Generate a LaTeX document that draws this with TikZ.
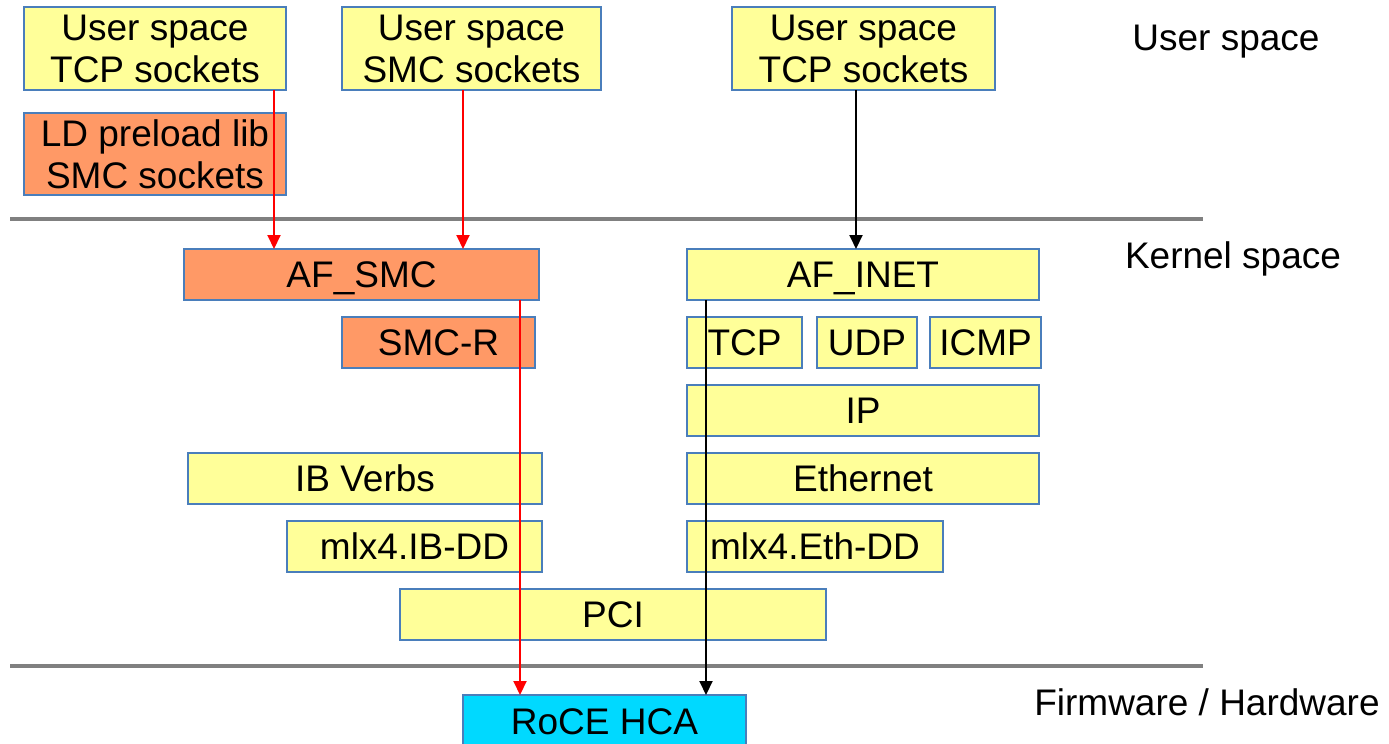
\documentclass[tikz,border=0pt]{standalone}
\usepackage{fontspec}
\setmainfont{Liberation Sans}
\usepackage{tikz}
\usetikzlibrary{arrows.meta,positioning,calc}
\definecolor{boxyellow}{HTML}{FFFF99}
\definecolor{boxorange}{HTML}{FF9966}
\definecolor{boxcyan}{HTML}{00D9FF}
\definecolor{boxblue}{HTML}{4A7EBB}
\definecolor{sepgray}{HTML}{808080}
\definecolor{smcred}{HTML}{FF0000}

\begin{document}
\begin{tikzpicture}[x=1pt, y=-1pt,
  every node/.style={font=\fontsize{37}{42}\selectfont, inner sep=0pt, outer sep=0pt},
  layer/.style={draw=boxblue, line width=2pt, align=center},
  oneline/.style={layer, text height=26.5pt, text depth=0pt, minimum height=51pt},
  smcarrow/.style={draw=smcred, line width=2pt, -{Triangle[length=14pt, width=13pt]}},
  inetarrow/.style={draw=black, line width=2pt, -{Triangle[length=14pt, width=13pt]}},
  sepline/.style={draw=sepgray, line width=4pt}]
  \useasboundingbox (0,0) rectangle (1389,744);

  % user space
  \node[layer, fill=boxyellow, minimum width=262pt, minimum height=83pt] (ut1) at (155,48.5) {User space\\TCP sockets};
  \node[layer, fill=boxorange, minimum width=262pt, minimum height=82pt] (ld) at (155,154) {LD preload lib\\SMC sockets};
  \node[layer, fill=boxyellow, minimum width=259pt, minimum height=83pt] (us2) at (471.5,48.5) {User space\\SMC sockets};
  \node[layer, fill=boxyellow, minimum width=263pt, minimum height=83pt] (ut3) at (863.5,48.5) {User space\\TCP sockets};
  \node[anchor=base] (lbluser) at (1226,50) {User space};

  \draw[sepline] (10,219) -- (1203,219);

  % kernel space
  \node[anchor=base] (lblkernel) at (1233,268) {Kernel space};
  \node[oneline, fill=boxorange, minimum width=355pt] (afsmc) at (361.5,274.5) {AF\_SMC};
  \node[oneline, fill=boxorange, minimum width=193pt] (smcr) at (438.5,342.5) {SMC-R};
  \node[oneline, fill=boxyellow, minimum width=354pt] (ibv) at (365,478.5) {IB Verbs};
  \node[oneline, fill=boxyellow, minimum width=255pt] (mlxib) at (414.5,546.5) {mlx4.IB-DD};

  \node[oneline, fill=boxyellow, minimum width=352pt] (afinet) at (863,274.5) {AF\_INET};
  \node[oneline, fill=boxyellow, minimum width=115pt] (tcp) at (744.5,342.5) {TCP};
  \node[oneline, fill=boxyellow, minimum width=100pt] (udp) at (867,342.5) {UDP};
  \node[oneline, fill=boxyellow, minimum width=111pt] (icmp) at (985.5,342.5) {ICMP};
  \node[oneline, fill=boxyellow, minimum width=352pt] (ip) at (863,410.5) {IP};
  \node[oneline, fill=boxyellow, minimum width=352pt] (eth) at (863,478.5) {Ethernet};
  \node[oneline, fill=boxyellow, minimum width=256pt] (mlxeth) at (815,546.5) {mlx4.Eth-DD};

  \node[oneline, fill=boxyellow, minimum width=426pt] (pci) at (613,614.5) {PCI};

  \draw[sepline] (10,666) -- (1203,666);

  % firmware / hardware
  \node[anchor=base] (lblhw) at (1207,715) {Firmware / Hardware};
  \node[oneline, fill=boxcyan, minimum width=283pt, minimum height=52pt] (roce) at (604.5,721) {RoCE HCA};

  % data paths
  \draw[smcarrow] ([xshift=119pt]ut1.south) -- ([xshift=119pt]ut1.south |- afsmc.north);
  \draw[smcarrow] ([xshift=-8.5pt]us2.south) -- ([xshift=-8.5pt]us2.south |- afsmc.north);
  \draw[inetarrow] ([xshift=-7.5pt]ut3.south) -- ([xshift=-7.5pt]ut3.south |- afinet.north);
  \draw[smcarrow] ([xshift=158.5pt]afsmc.south) -- ([xshift=158.5pt]afsmc.south |- roce.north);
  \draw[inetarrow] ([xshift=-157pt]afinet.south) -- ([xshift=-157pt]afinet.south |- roce.north);
\end{tikzpicture}
\end{document}
